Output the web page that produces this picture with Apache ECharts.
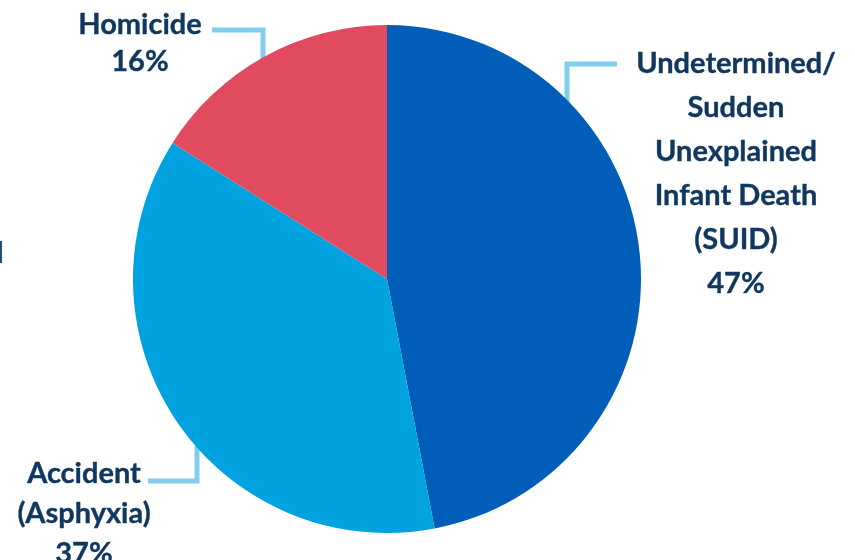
<!DOCTYPE html>
<html>
<head>
<meta charset="utf-8">
<script src="https://cdn.jsdelivr.net/npm/echarts@6/dist/echarts.min.js"></script>
<style>html,body{margin:0;padding:0;background:#fff}#c{width:855px;height:560px}</style>
</head>
<body>
<div id="c"></div>
<script>
const categories = ['Undetermined/\nSudden\nUnexplained\nInfant Death\n(SUID)', 'Accident\n(Asphyxia)', 'Homicide'];
const values = [47, 37, 16];
const colors = ['#005EB8', '#00A3E0', '#E04B5F'];

const labelPos = [
  {x: 736, y: 42, lh: 44},
  {x: 84, y: 454, lh: 40},
  {x: 140, y: 6, lh: 37}
];
const chart = echarts.init(document.getElementById('c'));
const txt = '#10385F';
const lineCol = '#80CDEE';
chart.setOption({
  backgroundColor: '#fff',
  animation: false,
  series: [{
    type: 'pie',
    center: [387, 279],
    radius: [0, 254],
    startAngle: 90,
    clockwise: true,
    data: categories.map((c, i) => ({
      name: c, value: values[i],
      itemStyle: {color: colors[i]},
      label: {lineHeight: labelPos[i].lh}
    })),
    label: {
      show: true,
      formatter: '{b}\n{c}%',
      fontFamily: 'Lato',
      fontWeight: 'bold',
      fontSize: 29,
      color: txt,
      align: 'center',
      overflow: 'none',
      width: 300,
      textBorderColor: txt,
      textBorderWidth: 0.4
    },
    labelLine: {show: false},
    labelLayout: function (p) {
      const lp = labelPos[p.dataIndex];
      return {x: lp.x, y: lp.y, align: 'center', verticalAlign: 'top'};
    }
  }],
  graphic: [
    {type: 'polyline', shape: {points: [[263, 62], [263, 30], [212, 30]]}, style: {stroke: lineCol, lineWidth: 5, fill: null}},
    {type: 'polyline', shape: {points: [[567, 104], [567, 64], [617, 64]]}, style: {stroke: lineCol, lineWidth: 5, fill: null}},
    {type: 'polyline', shape: {points: [[197, 446], [197, 481], [148, 481]]}, style: {stroke: lineCol, lineWidth: 5, fill: null}},
    {type: 'rect', shape: {x: 0, y: 241, width: 2, height: 22}, style: {fill: '#1F4E79'}}
  ]
});
</script>
</body>
</html>
